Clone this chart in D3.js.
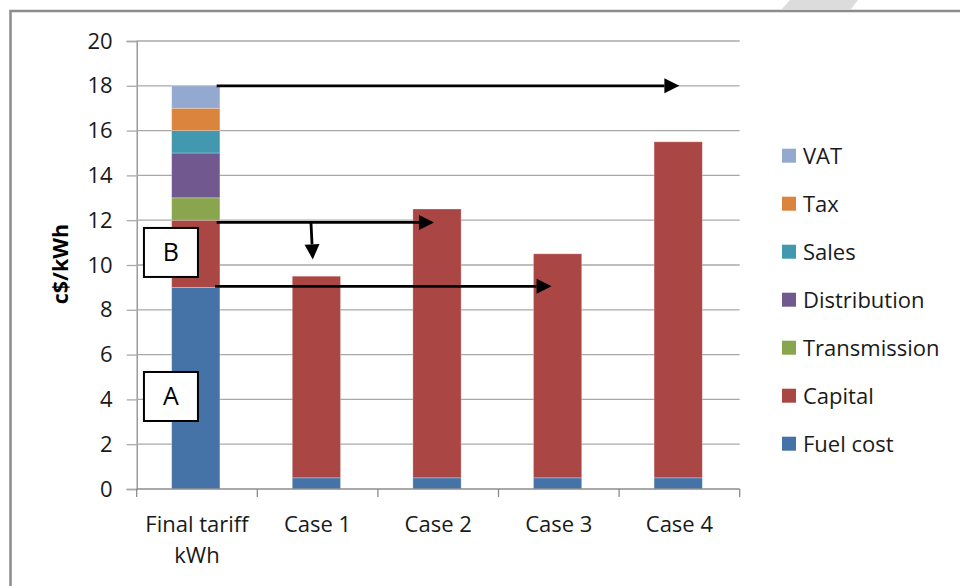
<!DOCTYPE html>
<html>
<head>
<meta charset="utf-8">
<script src="https://cdn.jsdelivr.net/npm/d3@7"></script>
<style>
  html, body { margin: 0; padding: 0; background: #fff; }
  svg { display: block; font-family: "Open Sans", Lato, sans-serif; }
</style>
</head>
<body>
<svg id="chart" width="960" height="586"></svg>
<script>
// Tariff components (c$/kWh) per case
const categories = ["Final tariff kWh", "Case 1", "Case 2", "Case 3", "Case 4"];
const seriesNames = ["Fuel cost", "Capital", "Transmission", "Distribution", "Sales", "Tax", "VAT"];
const fuelCost     = [9,   0.5, 0.5, 0.5, 0.5];
const capital      = [3,   9,   12,  10,  15];
const transmission = [1,   0,   0,   0,   0];
const distribution = [2,   0,   0,   0,   0];
const sales        = [1,   0,   0,   0,   0];
const tax          = [1,   0,   0,   0,   0];
const vat          = [1,   0,   0,   0,   0];
const yTicks = [0, 2, 4, 6, 8, 10, 12, 14, 16, 18, 20];
const colors = ["#4572A7", "#AA4643", "#89A54E", "#71588F", "#4198AF", "#DB843D", "#93A9CF"];

// Annotation arrows: x in category units (0 = axis start, 5 = axis end), y in c$/kWh
const arrowFrom = [[0.663, 18], [0.663, 11.9], [1.445, 11.9], [0.650, 9.05]];
const arrowTo   = [[4.500, 18], [2.465, 11.9], [1.460, 10.25], [3.440, 9.05]];
// Boxed labels next to the first bar
const boxLabels = ["A", "B"];
const boxLevels = [4.13, 10.56];

const seriesValues = [fuelCost, capital, transmission, distribution, sales, tax, vat];
const table = categories.map((c, i) => {
  const row = { category: c };
  seriesNames.forEach((s, k) => row[s] = seriesValues[k][i]);
  return row;
});

const svg = d3.select("#chart");
const plotLeft = 136.7, plotRight = 739.7, plotTop = 41, plotBottom = 489;
const fontSize = 22;

const x = d3.scaleBand().domain(categories).range([plotLeft, plotRight]).padding(0);
const xu = d3.scaleLinear().domain([0, 5]).range([plotLeft, plotRight]);
const y = d3.scaleLinear().domain([0, 20]).range([plotBottom, plotTop]);
const color = d3.scaleOrdinal().domain(seriesNames).range(colors);

// Outer frame
svg.append("path")
  .attr("d", `M10.5,586 V11 H960`)
  .attr("fill", "none").attr("stroke", "#8c8c8c").attr("stroke-width", 2.5);
svg.append("path")
  .attr("d", "M790,0 L858,0 L851,9 L853,10 L781,10 Z")
  .attr("fill", "#dcdcdc");

// Gridlines + y axis
const yAxis = d3.axisLeft(y).tickValues(yTicks).tickSize(10).tickPadding(14).tickFormat(d3.format("d"));
const gy = svg.append("g").attr("transform", `translate(${plotLeft},0)`).call(yAxis);
gy.select(".domain").attr("stroke", "#8c8c8c").attr("stroke-width", 1.3);
gy.selectAll(".tick line").attr("stroke", "#a8a8a8").attr("stroke-width", 1.3);
gy.selectAll(".tick text").attr("font-size", fontSize).attr("fill", "#1a1a1a")
  .attr("font-family", "'Open Sans', sans-serif");
svg.append("g").selectAll("line").data(yTicks.filter(t => t > 0)).join("line")
  .attr("x1", plotLeft).attr("x2", plotRight)
  .attr("y1", d => y(d)).attr("y2", d => y(d))
  .attr("stroke", "#a8a8a8").attr("stroke-width", 1.3);

// Stacked bars
const stack = d3.stack().keys(seriesNames)(table);
const barW = x.bandwidth() * 0.4;
const barOff = x.bandwidth() * 0.29;
svg.append("g").selectAll("g").data(stack).join("g")
  .attr("fill", d => color(d.key))
  .selectAll("rect").data(d => d.filter(s => s[1] - s[0] > 0)).join("rect")
  .attr("x", d => x(d.data.category) + barOff)
  .attr("width", barW)
  .attr("y", d => y(d[1]))
  .attr("height", d => y(d[0]) - y(d[1]))
  .attr("stroke", "rgba(255,255,255,0.35)").attr("stroke-width", 0.8);

// X axis
const gx = svg.append("g").attr("transform", `translate(0,${plotBottom})`);
gx.append("line").attr("x1", plotLeft).attr("x2", plotRight).attr("stroke", "#8c8c8c").attr("stroke-width", 1.3);
gx.selectAll(".tk").data(d3.range(6)).join("line").attr("class", "tk")
  .attr("x1", d => xu(d)).attr("x2", d => xu(d)).attr("y1", 0).attr("y2", 8)
  .attr("stroke", "#8c8c8c").attr("stroke-width", 1.3);
const labelLines = { "Final tariff kWh": ["Final tariff", "kWh"] };
gx.selectAll(".lbl").data(categories).join("text").attr("class", "lbl")
  .attr("text-anchor", "middle").attr("font-size", fontSize).attr("fill", "#1a1a1a")
  .each(function(d) {
    const lines = labelLines[d] || [d];
    d3.select(this).selectAll("tspan").data(lines).join("tspan")
      .attr("x", x(d) + x.bandwidth() / 2)
      .attr("y", (l, i) => 42.5 + i * 31.5)
      .text(l => l);
  });

// Y title
svg.append("text")
  .attr("transform", `translate(68,264) rotate(-90)`)
  .attr("text-anchor", "middle").attr("font-size", 21.5).attr("font-weight", "bold")
  .attr("fill", "#000").text("c$/kWh");

// Arrows
const ag = svg.append("g");
arrowFrom.forEach((p, i) => {
  const q = arrowTo[i];
  const x0 = xu(p[0]), y0 = y(p[1]), x1 = xu(q[0]), y1 = y(q[1]);
  const ang = Math.atan2(y1 - y0, x1 - x0);
  const len = 15, hw = 7.5;
  const bx = x1 - len * Math.cos(ang), by = y1 - len * Math.sin(ang);
  ag.append("line").attr("x1", x0).attr("y1", y0).attr("x2", bx).attr("y2", by)
    .attr("stroke", "#000").attr("stroke-width", 2.8);
  const nx = -Math.sin(ang) * hw, ny = Math.cos(ang) * hw;
  ag.append("path")
    .attr("d", `M${x1},${y1} L${bx + nx},${by + ny} L${bx - nx},${by - ny} Z`)
    .attr("fill", "#000");
});

// Boxed labels
const bg = svg.append("g");
boxLabels.forEach((t, i) => {
  const cx = xu(0.284), cy = y(boxLevels[i]);
  bg.append("rect").attr("x", cx - 27).attr("y", cy - 24.5).attr("width", 54).attr("height", 49)
    .attr("fill", "#fff").attr("stroke", "#000").attr("stroke-width", 2);
  bg.append("text").attr("x", cx).attr("y", cy).attr("dy", "0.36em")
    .attr("text-anchor", "middle").attr("font-size", 25).attr("fill", "#000").text(t);
});

// Legend (top entry is the last series)
const legend = svg.append("g");
const legendItems = seriesNames.slice().reverse();
legendItems.forEach((s, i) => {
  const cy = 155.7 + i * 48;
  legend.append("rect").attr("x", 782).attr("y", cy - 7).attr("width", 14).attr("height", 14)
    .attr("fill", color(s));
  legend.append("text").attr("x", 803).attr("y", cy).attr("dy", "0.36em")
    .attr("font-size", fontSize).attr("fill", "#1a1a1a").text(s);
});
</script>
</body>
</html>
